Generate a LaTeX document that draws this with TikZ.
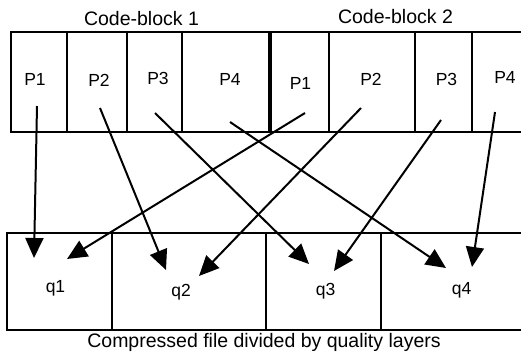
\documentclass[tikz,border=0pt]{standalone}
\usepackage{fontspec}
\setmainfont{Liberation Sans}
\usetikzlibrary{arrows.meta}
\tikzset{
  frame/.style={line width=2pt, line cap=rect},
  thickbar/.style={line width=4.5pt},
  packet/.style={anchor=base, inner sep=0pt, font=\fontsize{17.5}{21}\selectfont},
  layer/.style={anchor=base, inner sep=0pt, font=\fontsize{17.5}{21}\selectfont},
  title/.style={anchor=base, inner sep=0pt, font=\fontsize{19.5}{23}\selectfont},
  link/.style={line width=2pt, -{Triangle[length=20pt,width=18pt]}}
}
\begin{document}
\begin{tikzpicture}[x=1pt,y=-1pt]
\useasboundingbox (0,0) rectangle (521,354);

% code-block strip (open on the right)
\draw[frame] (521,32) -- (11,32) -- (11,132) -- (521,132);
\foreach \x in {67,127,182,329,415,472}
  \draw[frame] (\x,32) -- (\x,132);
\draw[thickbar] (270,32) -- (270,132);

% quality-layer strip (open on the right)
\draw[frame] (521,233) -- (7,233) -- (7,330) -- (521,330);
\foreach \x in {112,266,381}
  \draw[frame] (\x,233) -- (\x,330);

% titles
\node[title] (cb1) at (141.5,25.5) {Code-block 1};
\node[title] (cb2) at (395.5,23) {Code-block 2};
\node[title] (cap) at (264,347) {Compressed file divided by quality layers};

% packets
\node[packet] (a1) at (35,85) {P1};
\node[packet] (a2) at (99,86) {P2};
\node[packet] (a3) at (158,84) {P3};
\node[packet] (a4) at (230,85) {P4};
\node[packet] (b1) at (300.5,89) {P1};
\node[packet] (b2) at (371,85) {P2};
\node[packet] (b3) at (446.5,85) {P3};
\node[packet] (b4) at (505,83.5) {P4};

% quality layers
\node[layer] (q1) at (55.5,292) {q1};
\node[layer] (q2) at (181,296) {q2};
\node[layer] (q3) at (325.5,295) {q3};
\node[layer] (q4) at (461.5,294) {q4};

% connector ends
\coordinate (sa1) at (37,106);  \coordinate (ta1) at (34,258);
\coordinate (sa2) at (100,108); \coordinate (ta2) at (166,270);
\coordinate (sa3) at (155,113); \coordinate (ta3) at (309,264);
\coordinate (sa4) at (230,122); \coordinate (ta4) at (446,268);
\coordinate (sb1) at (305,113); \coordinate (tb1) at (67,259);
\coordinate (sb2) at (361,108); \coordinate (tb2) at (199,276);
\coordinate (sb3) at (441,120); \coordinate (tb3) at (334,271);
\coordinate (sb4) at (495,112); \coordinate (tb4) at (472,267);

\foreach \p in {a1,a2,a3,a4,b1,b2,b3,b4}
  \draw[link] (s\p) -- (t\p);
\end{tikzpicture}
\end{document}
